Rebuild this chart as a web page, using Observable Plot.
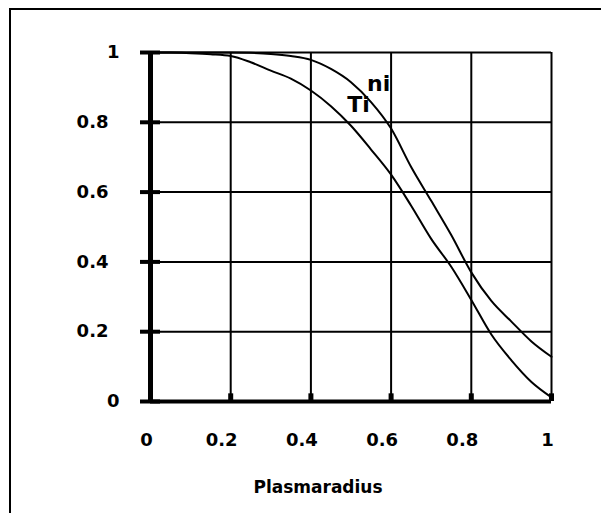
<!DOCTYPE html>
<html><head><meta charset="utf-8">
<script src="https://cdn.jsdelivr.net/npm/d3@7"></script>
<script src="https://cdn.jsdelivr.net/npm/@observablehq/plot@0.6"></script>
<style>
body{margin:0;background:#fff;}
#wrap{position:relative;width:601px;height:513px;overflow:hidden;background:#fff;}
#border{position:absolute;left:9px;top:8px;width:800px;height:800px;border:2.5px solid #000;z-index:2;pointer-events:none;}
#chart{position:absolute;left:0;top:0;z-index:1;}
</style></head><body>
<div id="wrap"><div id="border"></div><div id="chart"></div></div>
<script>
const radius = [0, 0.05, 0.1, 0.15, 0.2, 0.25, 0.3, 0.35, 0.4, 0.45, 0.5, 0.55, 0.6, 0.65, 0.7, 0.75, 0.8, 0.85, 0.9, 0.95, 1];
const ni = [1, 1, 1, 1, 1, 0.999, 0.996, 0.99, 0.979, 0.953, 0.915, 0.858, 0.782, 0.672, 0.575, 0.477, 0.37, 0.288, 0.229, 0.172, 0.128];
const Ti = [1, 1, 0.998, 0.995, 0.99, 0.972, 0.948, 0.925, 0.891, 0.846, 0.79, 0.722, 0.65, 0.561, 0.466, 0.386, 0.291, 0.192, 0.118, 0.056, 0.012];
const xTicks = [0, 0.2, 0.4, 0.6, 0.8, 1];
const yTicks = [0, 0.2, 0.4, 0.6, 0.8, 1];
const seriesNames = ["ni", "Ti"];
const labelX = [0.569, 0.519];
const labelY = [0.891, 0.829];
const xTitle = "Plasmaradius";

const fam = "DejaVu Sans";
const isInt = d => Number.isInteger(d);
const fmt = d => String(d);
const rows = (vals) => radius.map((r, i) => ({r, v: vals[i]}));

const chart = Plot.plot({
  width: 601, height: 513,
  marginTop: 52, marginRight: 50, marginBottom: 112, marginLeft: 150,
  x: {domain: [0, 1]},
  y: {domain: [0, 1]},
  style: {fontFamily: fam, fontWeight: "bold", color: "#000", background: "transparent"},
  marks: [
    Plot.gridX(xTicks, {stroke: "#000", strokeOpacity: 1, strokeWidth: 2}),
    Plot.gridY(yTicks, {stroke: "#000", strokeOpacity: 1, strokeWidth: 2}),
    Plot.ruleX([0], {stroke: "#000", strokeWidth: 5}),
    Plot.ruleY([0], {stroke: "#000", strokeWidth: 4}),
    Plot.ruleY(yTicks, {y: d => d, x1: () => -0.025, x2: () => 0.025, stroke: "#000", strokeWidth: 4}),
    Plot.ruleX(xTicks, {x: d => d, y1: () => 0, y2: () => 0.022, stroke: "#000", strokeWidth: 5}),
    Plot.axisY(yTicks.filter(isInt), {tickSize: 0, tickPadding: 31, fontSize: 18, fontWeight: "bold", label: null, tickFormat: fmt}),
    Plot.axisY(yTicks.filter(d => !isInt(d)), {tickSize: 0, tickPadding: 42, fontSize: 18, fontWeight: "bold", label: null, tickFormat: fmt}),
    Plot.axisX(xTicks.filter(isInt), {tickSize: 0, tickPadding: 32, dx: -4, fontSize: 18, fontWeight: "bold", label: null, tickFormat: fmt}),
    Plot.axisX(xTicks.filter(d => !isInt(d)), {tickSize: 0, tickPadding: 32, dx: -9, fontSize: 18, fontWeight: "bold", label: null, tickFormat: fmt}),
    Plot.text(seriesNames, {x: (d, i) => labelX[i], y: (d, i) => labelY[i], text: d => d, fontSize: 22, fontWeight: "bold", lineAnchor: "bottom", textAnchor: "middle"}),
    Plot.line(rows(ni), {x: "r", y: "v", stroke: "#000", strokeWidth: 2, curve: "monotone-x"}),
    Plot.line(rows(Ti), {x: "r", y: "v", stroke: "#000", strokeWidth: 2, curve: "monotone-x"}),
    Plot.text([xTitle], {frameAnchor: "bottom", dy: 91, dx: -33, text: d => d, lineAnchor: "bottom", fontSize: 17, fontWeight: "bold"})
  ]
});
document.getElementById("chart").appendChild(chart);
</script>
</body></html>
